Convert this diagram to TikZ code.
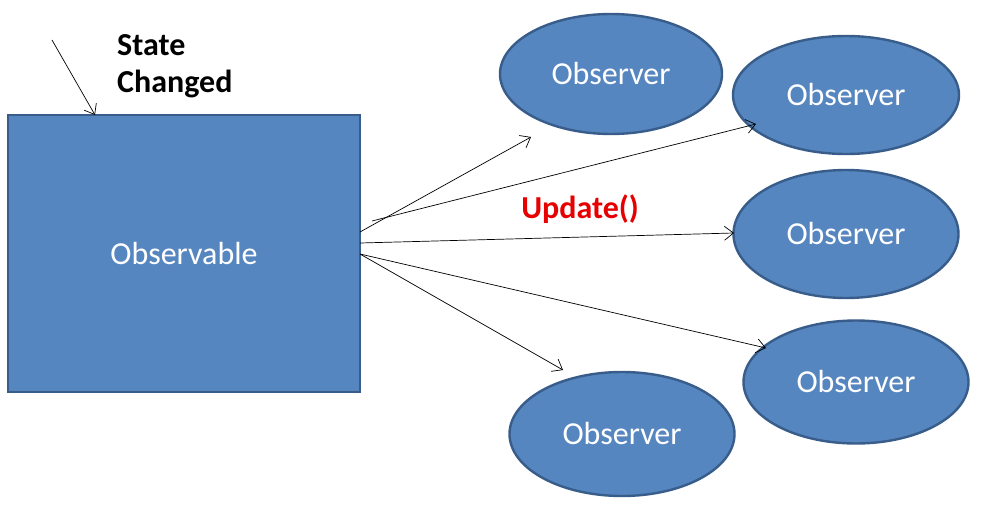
\documentclass[tikz,border=0pt]{standalone}
\usepackage{fontspec}
\setmainfont{Carlito}
\usetikzlibrary{shapes.geometric,arrows.meta}
\definecolor{boxfill}{RGB}{86,134,192}
\definecolor{boxline}{RGB}{56,93,138}
\definecolor{updred}{RGB}{230,0,0}
\tikzset{
  obsbox/.style={draw=boxline, fill=boxfill, line width=2.4pt, text=white, font=\fontsize{32}{38}\selectfont, inner sep=0pt},
  obsell/.style={obsbox, ellipse},
  msg/.style={-{Straight Barb[length=9pt,width=14pt]}, line width=0.7pt, black},
}
\begin{document}
\begin{tikzpicture}[x=1pt,y=-1pt]
\useasboundingbox (0,0) rectangle (987,508);
\fill[white] (0,0) rectangle (987,508);
\node[obsbox, minimum width=352pt, minimum height=277pt] (obs) at (184,253.5) {Observable};
\node[obsell, minimum width=222pt, minimum height=120pt] (o1) at (611,74) {Observer};
\node[obsell, minimum width=226pt, minimum height=118pt] (o2) at (846,95) {Observer};
\node[obsell, minimum width=225pt, minimum height=128pt] (o3) at (846,234) {Observer};
\node[obsell, minimum width=225pt, minimum height=123pt] (o4) at (856,382) {Observer};
\node[obsell, minimum width=225pt, minimum height=124pt] (o5) at (622,434) {Observer};
\node[font=\bfseries\fontsize{32}{37}\selectfont, align=left, anchor=north west, inner sep=0pt] (sc) at (117,34) {State\\Changed};
\node[font=\bfseries\fontsize{32}{37}\selectfont, text=updred, inner sep=0pt] (upd) at (580,209) {Update()};
\coordinate (sstart) at (52,40);
\coordinate (send) at (95,115);
\coordinate (s1) at (360,232);
\coordinate (s2) at (372,221);
\coordinate (s3) at (360,243);
\coordinate (s4) at (360,254);
\coordinate (e1) at (531,137);
\coordinate (e2) at (756,124);
\coordinate (e3) at (734,233);
\coordinate (e4) at (766,348);
\coordinate (e5) at (563,370);
\draw[msg] (sstart) -- (send);
\draw[msg] (s1) -- (e1);
\draw[msg] (s2) -- (e2);
\draw[msg] (s3) -- (e3);
\draw[msg] (s4) -- (e4);
\draw[msg] (s4) -- (e5);
\end{tikzpicture}
\end{document}
